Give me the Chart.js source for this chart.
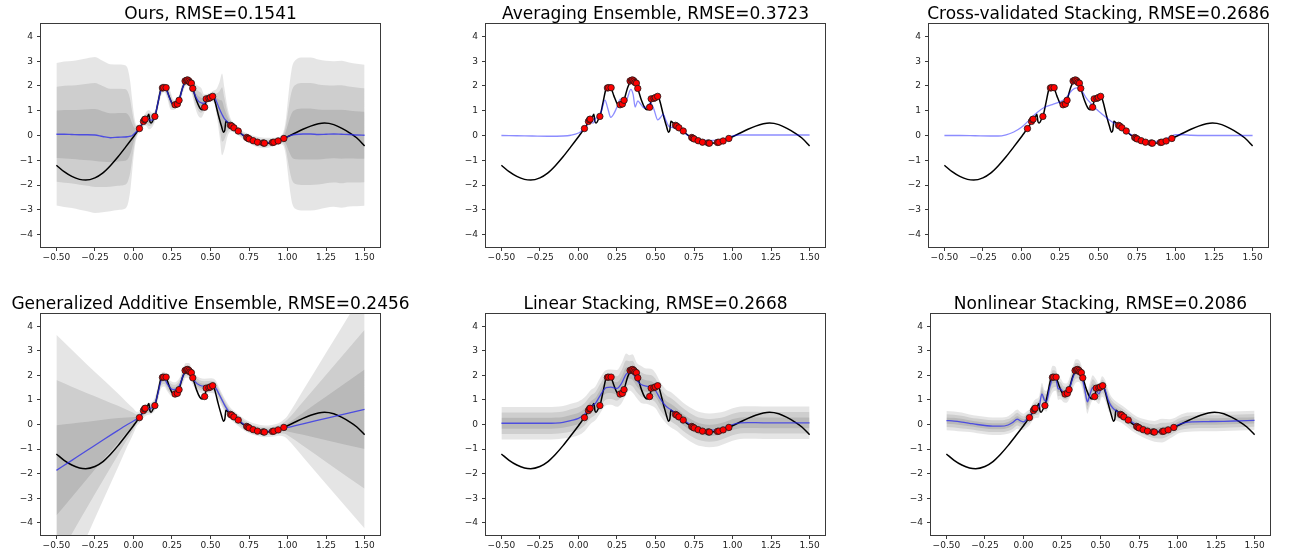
<!DOCTYPE html>
<html>
<head>
<meta charset="utf-8">
<script src="https://cdn.jsdelivr.net/npm/chart.js@4.4.1/dist/chart.umd.min.js"></script>
<style>
  html, body { margin: 0; padding: 0; background: #fff; }
  #fig { position: relative; width: 1290px; height: 554px; overflow: hidden; }
  .panel { position: absolute; width: 430px; height: 277px; }
</style>
</head>
<body>
<div id="fig"></div>
<script>
// Axis ticks shared by all six panels
const xTicks = [-0.5, -0.25, 0, 0.25, 0.5, 0.75, 1, 1.25, 1.5];
const yTicks = [-4, -3, -2, -1, 0, 1, 2, 3, 4];

// Ground-truth function [x, y]
const trueCurve = [
  [-0.50,-1.20],[-0.45,-1.46],[-0.40,-1.65],[-0.35,-1.77],[-0.31,-1.80],[-0.25,-1.71],
  [-0.20,-1.52],[-0.15,-1.22],[-0.10,-0.86],[-0.05,-0.46],[0.00,-0.05],[0.02,0.12],
  [0.04,0.28],[0.06,0.50],[0.075,0.64],[0.09,0.74],[0.10,0.86],[0.107,0.56],[0.115,0.50],
  [0.13,0.66],[0.14,0.78],[0.16,1.35],[0.18,1.90],[0.195,1.97],[0.21,1.93],[0.23,1.60],
  [0.25,1.30],[0.265,1.22],[0.28,1.27],[0.295,1.42],[0.32,1.95],[0.34,2.20],[0.355,2.26],
  [0.37,2.17],[0.385,1.90],[0.41,1.40],[0.43,1.12],[0.445,1.04],[0.462,1.14],[0.475,1.48],
  [0.495,1.52],[0.515,1.60],[0.53,1.35],[0.55,0.85],[0.57,0.40],[0.585,0.13],[0.593,0.22],
  [0.60,0.58],[0.615,0.50],[0.635,0.42],[0.655,0.31],[0.68,0.17],[0.71,0.02],[0.745,-0.10],
  [0.78,-0.21],[0.81,-0.27],[0.85,-0.31],[0.88,-0.30],[0.91,-0.27],[0.94,-0.22],[0.975,-0.12],
  [1.00,-0.05],[1.05,0.10],[1.10,0.25],[1.15,0.38],[1.20,0.47],[1.24,0.50],[1.30,0.44],
  [1.35,0.30],[1.40,0.12],[1.45,-0.10],[1.50,-0.42]
];

// Observed training points [x, y]
const observed = [
  [0.039,0.28],[0.065,0.57],[0.072,0.64],[0.076,0.66],[0.139,0.77],[0.188,1.92],[0.196,1.93],
  [0.212,1.93],[0.270,1.24],[0.285,1.27],[0.296,1.42],[0.335,2.20],[0.345,2.23],[0.352,2.24],
  [0.360,2.20],[0.367,2.14],[0.376,2.11],[0.385,1.90],[0.462,1.14],[0.472,1.48],[0.490,1.50],
  [0.499,1.53],[0.514,1.58],[0.630,0.41],[0.638,0.38],[0.652,0.31],[0.680,0.18],[0.735,-0.08],
  [0.743,-0.11],[0.751,-0.14],[0.777,-0.21],[0.805,-0.27],[0.842,-0.30],[0.850,-0.31],
  [0.902,-0.28],[0.911,-0.27],[0.939,-0.22],[0.976,-0.12]
];

// Predictive mean and standard deviation [x, mean, sd]
const oursBand = [
  [-0.50,0.05,0.96],[-0.45,0.05,0.98],[-0.40,0.04,0.99],[-0.35,0.03,1.01],[-0.30,0.03,1.03],
  [-0.25,0.02,1.05],[-0.20,-0.04,1.02],[-0.15,-0.09,0.99],[-0.10,-0.07,0.98],[-0.06,-0.06,0.97],
  [-0.04,-0.05,0.93],[-0.03,-0.04,0.85],[-0.02,-0.03,0.72],[-0.01,-0.01,0.52],[0.00,0.04,0.32],
  [0.01,0.10,0.17],[0.02,0.16,0.09],[0.04,0.30,0.05],[0.06,0.52,0.06],[0.08,0.66,0.09],
  [0.10,0.64,0.13],[0.12,0.62,0.10],[0.14,0.80,0.07],[0.16,1.35,0.09],[0.18,1.85,0.08],
  [0.20,1.93,0.06],[0.22,1.75,0.09],[0.24,1.42,0.12],[0.26,1.24,0.07],[0.28,1.28,0.05],
  [0.30,1.50,0.07],[0.32,1.95,0.08],[0.34,2.18,0.06],[0.36,2.20,0.06],[0.38,1.95,0.10],
  [0.40,1.62,0.16],[0.42,1.40,0.20],[0.44,1.32,0.20],[0.46,1.30,0.12],[0.48,1.48,0.07],
  [0.50,1.56,0.06],[0.52,1.58,0.08],[0.54,1.35,0.18],[0.56,1.05,0.38],[0.575,0.85,0.55],
  [0.59,0.68,0.42],[0.61,0.55,0.20],[0.63,0.43,0.09],[0.66,0.28,0.06],[0.70,0.06,0.05],
  [0.75,-0.12,0.06],[0.80,-0.25,0.07],[0.85,-0.30,0.07],[0.90,-0.27,0.06],[0.95,-0.20,0.05],
  [0.97,-0.14,0.08],[0.98,-0.11,0.14],[0.99,-0.08,0.26],[1.00,-0.05,0.45],[1.01,-0.02,0.64],
  [1.02,0.00,0.80],[1.03,0.02,0.92],[1.05,0.04,1.00],[1.10,0.06,1.03],[1.15,0.06,1.03],
  [1.20,0.04,1.01],[1.25,0.05,0.99],[1.30,0.06,0.98],[1.35,0.05,0.99],[1.40,0.04,0.97],
  [1.45,0.02,0.96],[1.50,0.01,0.95]
];

// Mean only [x, mean]
const averagingMean = [
  [-0.50,0.00],[-0.40,-0.01],[-0.30,-0.02],[-0.20,-0.03],[-0.10,-0.02],[-0.05,0.01],[0.00,0.10],
  [0.02,0.19],[0.04,0.30],[0.06,0.45],[0.08,0.56],[0.095,0.50],[0.11,0.68],[0.13,0.76],
  [0.15,1.00],[0.172,1.43],[0.19,1.10],[0.21,0.73],[0.23,0.88],[0.25,1.15],[0.272,1.47],
  [0.29,1.30],[0.305,1.30],[0.32,1.55],[0.34,1.86],[0.355,1.65],[0.368,1.15],[0.385,1.40],
  [0.40,1.30],[0.425,1.12],[0.445,1.18],[0.468,1.32],[0.49,1.05],[0.515,0.63],[0.535,0.75],
  [0.55,0.86],[0.565,0.65],[0.585,0.38],[0.615,0.32],[0.64,0.36],[0.66,0.28],[0.68,0.15],
  [0.71,0.00],[0.75,-0.12],[0.80,-0.18],[0.85,-0.21],[0.90,-0.19],[0.95,-0.13],[0.98,-0.07],
  [1.00,-0.02],[1.05,0.02],[1.20,0.02],[1.35,0.02],[1.50,0.02]
];

const cvMean = [
  [-0.50,0.00],[-0.40,0.00],[-0.30,-0.01],[-0.20,-0.02],[-0.15,-0.02],[-0.10,0.03],[-0.05,0.14],
  [0.00,0.33],[0.05,0.62],[0.10,0.92],[0.15,1.14],[0.20,1.25],[0.25,1.36],[0.28,1.46],
  [0.30,1.60],[0.33,1.84],[0.36,1.92],[0.39,1.82],[0.42,1.52],[0.45,1.30],[0.48,1.10],
  [0.52,0.88],[0.56,0.68],[0.60,0.50],[0.65,0.30],[0.70,0.08],[0.75,-0.10],[0.80,-0.20],
  [0.85,-0.25],[0.90,-0.22],[0.95,-0.10],[1.00,0.03],[1.05,0.03],[1.10,0.01],[1.20,0.00],
  [1.35,0.00],[1.50,0.00]
];

const gaeBand = [
  [-0.50,-1.87,1.84],[-0.40,-1.46,1.50],[-0.30,-1.05,1.16],[-0.20,-0.64,0.83],[-0.10,-0.24,0.50],
  [-0.05,-0.04,0.33],[0.00,0.14,0.17],[0.02,0.22,0.10],[0.04,0.31,0.08],[0.06,0.48,0.08],
  [0.08,0.60,0.08],[0.10,0.64,0.08],[0.12,0.68,0.08],[0.14,0.85,0.09],[0.16,1.30,0.10],
  [0.18,1.78,0.10],[0.20,1.85,0.10],[0.22,1.65,0.10],[0.24,1.48,0.10],[0.26,1.42,0.10],
  [0.28,1.45,0.10],[0.30,1.60,0.10],[0.32,1.95,0.10],[0.34,2.20,0.10],[0.36,2.20,0.10],
  [0.38,1.98,0.10],[0.40,1.75,0.10],[0.43,1.60,0.10],[0.46,1.56,0.10],[0.50,1.58,0.10],
  [0.53,1.52,0.10],[0.56,1.18,0.09],[0.60,0.70,0.09],[0.63,0.44,0.08],[0.66,0.28,0.08],
  [0.70,0.08,0.08],[0.75,-0.12,0.08],[0.80,-0.22,0.08],[0.85,-0.28,0.08],[0.90,-0.26,0.08],
  [0.95,-0.19,0.09],[0.98,-0.14,0.12],[1.00,-0.12,0.16],[1.10,0.03,0.45],[1.25,0.25,0.89],
  [1.50,0.62,1.62]
];

const linearBand = [
  [-0.50,0.05,0.22],[-0.40,0.05,0.22],[-0.30,0.05,0.22],[-0.20,0.05,0.22],[-0.15,0.06,0.22],
  [-0.10,0.09,0.22],[-0.05,0.16,0.23],[0.00,0.25,0.23],[0.04,0.42,0.23],[0.08,0.72,0.23],
  [0.11,0.86,0.23],[0.14,1.17,0.24],[0.18,1.50,0.24],[0.21,1.52,0.24],[0.25,1.47,0.25],
  [0.28,1.68,0.27],[0.31,2.05,0.28],[0.33,2.10,0.24],[0.35,2.08,0.26],[0.38,1.78,0.24],
  [0.41,1.62,0.25],[0.44,1.56,0.24],[0.47,1.52,0.25],[0.50,1.38,0.24],[0.53,1.05,0.23],
  [0.57,0.73,0.23],[0.60,0.60,0.24],[0.64,0.42,0.23],[0.68,0.20,0.23],[0.72,0.02,0.23],
  [0.76,-0.12,0.23],[0.80,-0.20,0.23],[0.85,-0.24,0.23],[0.90,-0.21,0.23],[0.95,-0.12,0.22],
  [1.00,0.00,0.22],[1.05,0.07,0.22],[1.10,0.08,0.22],[1.20,0.07,0.22],[1.30,0.07,0.22],
  [1.40,0.07,0.22],[1.50,0.07,0.22]
];

const nonlinearBand = [
  [-0.50,0.16,0.13],[-0.45,0.14,0.13],[-0.40,0.10,0.13],[-0.35,0.05,0.12],[-0.30,0.00,0.12],
  [-0.25,-0.04,0.12],[-0.20,-0.07,0.12],[-0.15,-0.07,0.12],[-0.10,-0.02,0.12],[-0.07,0.08,0.13],
  [-0.04,0.22,0.13],[-0.02,0.15,0.12],[0.00,0.11,0.11],[0.02,0.20,0.11],[0.04,0.30,0.11],
  [0.06,0.52,0.12],[0.08,0.65,0.13],[0.10,0.70,0.14],[0.12,1.25,0.15],[0.135,1.00,0.14],
  [0.15,0.95,0.14],[0.17,1.50,0.16],[0.19,1.85,0.18],[0.21,1.85,0.16],[0.225,1.45,0.15],
  [0.24,1.45,0.14],[0.26,1.30,0.13],[0.28,1.28,0.13],[0.30,1.50,0.14],[0.32,1.90,0.15],
  [0.34,2.18,0.16],[0.36,2.18,0.15],[0.38,1.92,0.14],[0.40,1.35,0.15],[0.415,0.92,0.16],
  [0.43,1.20,0.16],[0.45,1.50,0.17],[0.47,1.40,0.15],[0.49,1.25,0.14],[0.51,1.55,0.14],
  [0.53,1.40,0.14],[0.55,1.00,0.14],[0.57,0.75,0.13],[0.60,0.56,0.13],[0.63,0.45,0.12],
  [0.66,0.32,0.12],[0.70,0.12,0.12],[0.75,-0.08,0.12],[0.80,-0.20,0.13],[0.85,-0.28,0.14],
  [0.90,-0.25,0.16],[0.95,-0.18,0.13],[0.98,-0.10,0.12],[1.00,-0.02,0.12],[1.05,0.08,0.13],
  [1.10,0.11,0.13],[1.20,0.12,0.13],[1.30,0.13,0.13],[1.40,0.15,0.13],[1.50,0.17,0.13]
];

const titles = [
  'Ours, RMSE=0.1541',
  'Averaging Ensemble, RMSE=0.3723',
  'Cross-validated Stacking, RMSE=0.2686',
  'Generalized Additive Ensemble, RMSE=0.2456',
  'Linear Stacking, RMSE=0.2668',
  'Nonlinear Stacking, RMSE=0.2086'
];

// Panel placement: grid cell and plot-area box inside the 430x277 cell
const panels = [
  { title: titles[0], band: oursBand,      col: 0, row: 0, blue: 'rgba(40,40,235,0.75)', box: { left: 41, right: 380, top: 24, bottom: 247 } },
  { title: titles[1], mean: averagingMean, col: 1, row: 0, blue: 'rgba(0,0,255,0.45)',   box: { left: 56, right: 395, top: 24, bottom: 247 } },
  { title: titles[2], mean: cvMean,        col: 2, row: 0, blue: 'rgba(0,0,255,0.45)',   box: { left: 69, right: 408, top: 24, bottom: 247 } },
  { title: titles[3], band: gaeBand,       col: 0, row: 1, blue: 'rgba(40,40,235,0.75)', box: { left: 41, right: 380, top: 37, bottom: 258 } },
  { title: titles[4], band: linearBand,    col: 1, row: 1, blue: 'rgba(40,40,235,0.75)', box: { left: 56, right: 395, top: 37, bottom: 258 } },
  { title: titles[5], band: nonlinearBand, col: 2, row: 1, blue: 'rgba(40,40,235,0.75)', box: { left: 71, right: 410, top: 37, bottom: 258 } }
];

const FONT = '"DejaVu Sans", "Liberation Sans", sans-serif';
const fmtX = v => (v < 0 ? '\u2212' : '') + Math.abs(v).toFixed(2);
const fmtY = v => (v < 0 ? '\u2212' : '') + Math.abs(Math.round(v));

// Draws the axes frame and the panel title above the plot area
const frameTitle = {
  id: 'frameTitle',
  afterDraw(chart, args, opts) {
    const { ctx, chartArea: a } = chart;
    ctx.save();
    ctx.strokeStyle = '#3a3a3a';
    ctx.lineWidth = 1;
    ctx.strokeRect(Math.round(a.left) - 0.5, Math.round(a.top) - 0.5,
                   Math.round(a.right - a.left) + 1, Math.round(a.bottom - a.top) + 1);
    ctx.font = '17px ' + FONT;
    ctx.fillStyle = '#000';
    ctx.textAlign = 'center';
    ctx.textBaseline = 'alphabetic';
    ctx.fillText(opts.text, (a.left + a.right) / 2, a.top - 5);
    ctx.restore();
  }
};

const pts = rows => rows.map(r => ({ x: r[0], y: r[1] }));

function buildDatasets(p) {
  const meanRows = p.band ? p.band.map(r => [r[0], r[1]]) : p.mean;
  const ds = [
    { type: 'scatter', data: pts(observed), pointRadius: 3.2, pointBackgroundColor: '#ff0000',
      pointBorderColor: '#1a1a1a', pointBorderWidth: 0.8, order: 0 },
    { type: 'line', data: pts(meanRows), borderColor: p.blue, borderWidth: 1.3, pointRadius: 0,
      cubicInterpolationMode: 'monotone', fill: false, order: 1 },
    { type: 'line', data: pts(trueCurve), borderColor: '#000', borderWidth: 1.5, pointRadius: 0,
      cubicInterpolationMode: 'monotone', fill: false, order: 2 }
  ];
  if (p.band) {
    [3, 2, 1].forEach((k, j) => {
      const upperIndex = ds.length;
      ds.push({ type: 'line', data: p.band.map(r => ({ x: r[0], y: r[1] + k * r[2] })),
        borderColor: 'rgba(0,0,0,0)', borderWidth: 0, pointRadius: 0,
        cubicInterpolationMode: 'monotone', fill: { target: upperIndex + 1 },
        backgroundColor: 'rgba(0,0,0,0.1)', order: 3 + 2 * j });
      ds.push({ type: 'line', data: p.band.map(r => ({ x: r[0], y: r[1] - k * r[2] })),
        borderColor: 'rgba(0,0,0,0)', borderWidth: 0, pointRadius: 0,
        cubicInterpolationMode: 'monotone', fill: false, order: 4 + 2 * j });
    });
  }
  return ds;
}

function axisCommon() {
  return {
    type: 'linear',
    grid: { drawOnChartArea: false, drawTicks: true, tickLength: 4, color: '#3a3a3a', lineWidth: 1 },
    border: { display: false },
    ticks: { font: { family: FONT, size: 9 }, color: '#222', autoSkip: false, maxRotation: 0 }
  };
}

const fig = document.getElementById('fig');
panels.forEach(p => {
  const holder = document.createElement('div');
  holder.className = 'panel';
  holder.style.left = (p.col * 430) + 'px';
  holder.style.top = (p.row * 277) + 'px';
  const canvas = document.createElement('canvas');
  canvas.width = 430; canvas.height = 277;
  canvas.style.width = '430px'; canvas.style.height = '277px';
  holder.appendChild(canvas);
  fig.appendChild(holder);

  const xAxis = axisCommon();
  Object.assign(xAxis, {
    min: -0.6, max: 1.6,
    afterBuildTicks: s => { s.ticks = xTicks.map(v => ({ value: v })); },
    afterFit: s => { s.height = 277 - p.box.bottom; }
  });
  xAxis.ticks.padding = 1;
  xAxis.ticks.callback = v => fmtX(v);

  const yAxis = axisCommon();
  Object.assign(yAxis, {
    min: -4.5, max: 4.5,
    afterBuildTicks: s => { s.ticks = yTicks.map(v => ({ value: v })); },
    afterFit: s => { s.width = p.box.left; }
  });
  yAxis.ticks.padding = 4;
  yAxis.ticks.callback = v => fmtY(v);

  new Chart(canvas, {
    type: 'line',
    data: { datasets: buildDatasets(p) },
    options: {
      responsive: false,
      animation: false,
      devicePixelRatio: 1,
      layout: { padding: { left: 0, right: 430 - p.box.right, top: p.box.top, bottom: 0 } },
      plugins: {
        legend: { display: false },
        tooltip: { enabled: false },
        title: { display: false },
        frameTitle: { text: p.title }
      },
      scales: { x: xAxis, y: yAxis }
    },
    plugins: [frameTitle]
  });
});
</script>
</body>
</html>
